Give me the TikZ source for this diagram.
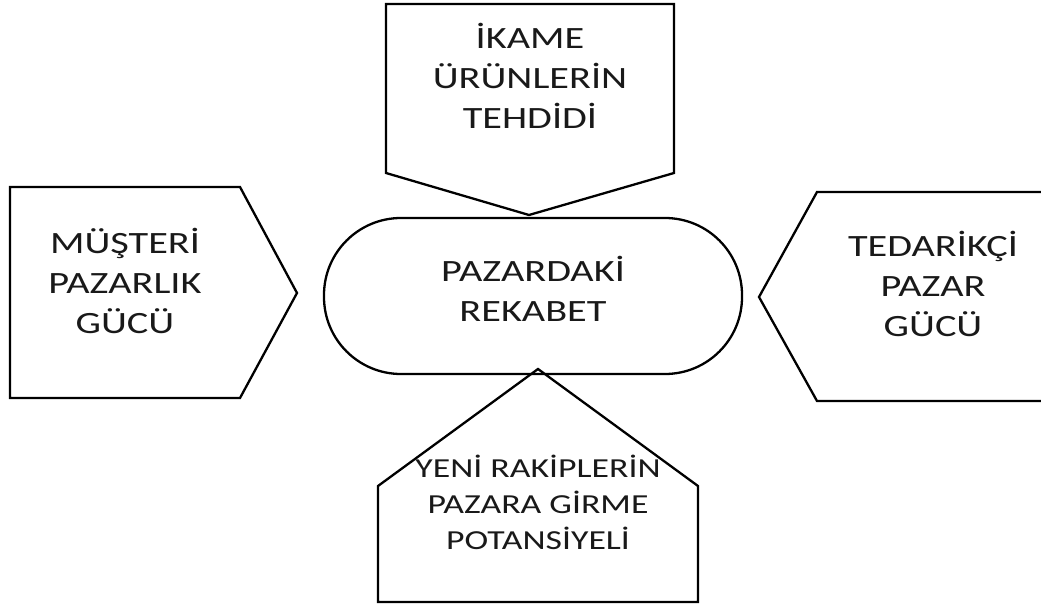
\documentclass[tikz,border=0pt]{standalone}
\usepackage{fontspec}
\setmainfont{Carlito}[FakeStretch=1.3]
\begin{document}
\begin{tikzpicture}[x=1pt,y=-1pt,
  outline/.style={draw=black,line width=2.3pt,line join=miter},
  bigtext/.style={align=center,inner sep=0pt,font=\fontsize{31}{40}\selectfont,text=black!90},
  smalltext/.style={align=center,inner sep=0pt,font=\fontsize{27.5}{36}\selectfont,text=black!90}]
\useasboundingbox (0,0) rectangle (1041,609);

% central market rivalry (stadium shape)
\draw[outline,rounded corners=77pt] (324,218) rectangle (742,374);
\node[bigtext] (rekabet) at (533,289) {PAZARDAKİ\\REKABET};

% top: threat of substitutes, pointing down
\draw[outline] (386,4) -- (674,4) -- (674,173) -- (529,215) -- (386,173) -- cycle;
\node[bigtext] (ikame) at (530,75.5) {İKAME\\ÜRÜNLERİN\\TEHDİDİ};

% left: buyer bargaining power, pointing right
\draw[outline] (10,187) -- (240,187) -- (297,293) -- (240,398) -- (10,398) -- cycle;
\node[bigtext] (musteri) at (125,280.5) {MÜŞTERİ\\PAZARLIK\\GÜCÜ};

% right: supplier power, pointing left
\draw[outline] (1050,192) -- (817,192) -- (759,297) -- (817,401) -- (1050,401);
\node[bigtext] (tedarikci) at (933,283.5) {TEDARİKÇİ\\PAZAR\\GÜCÜ};

% bottom: threat of new entrants, pointing up
\draw[outline] (378,602) -- (378,486) -- (538,369) -- (698,486) -- (698,602) -- cycle;
\node[smalltext] (yeni) at (538,502.5) {YENİ RAKİPLERİN\\PAZARA GİRME\\POTANSİYELİ};
\end{tikzpicture}
\end{document}
